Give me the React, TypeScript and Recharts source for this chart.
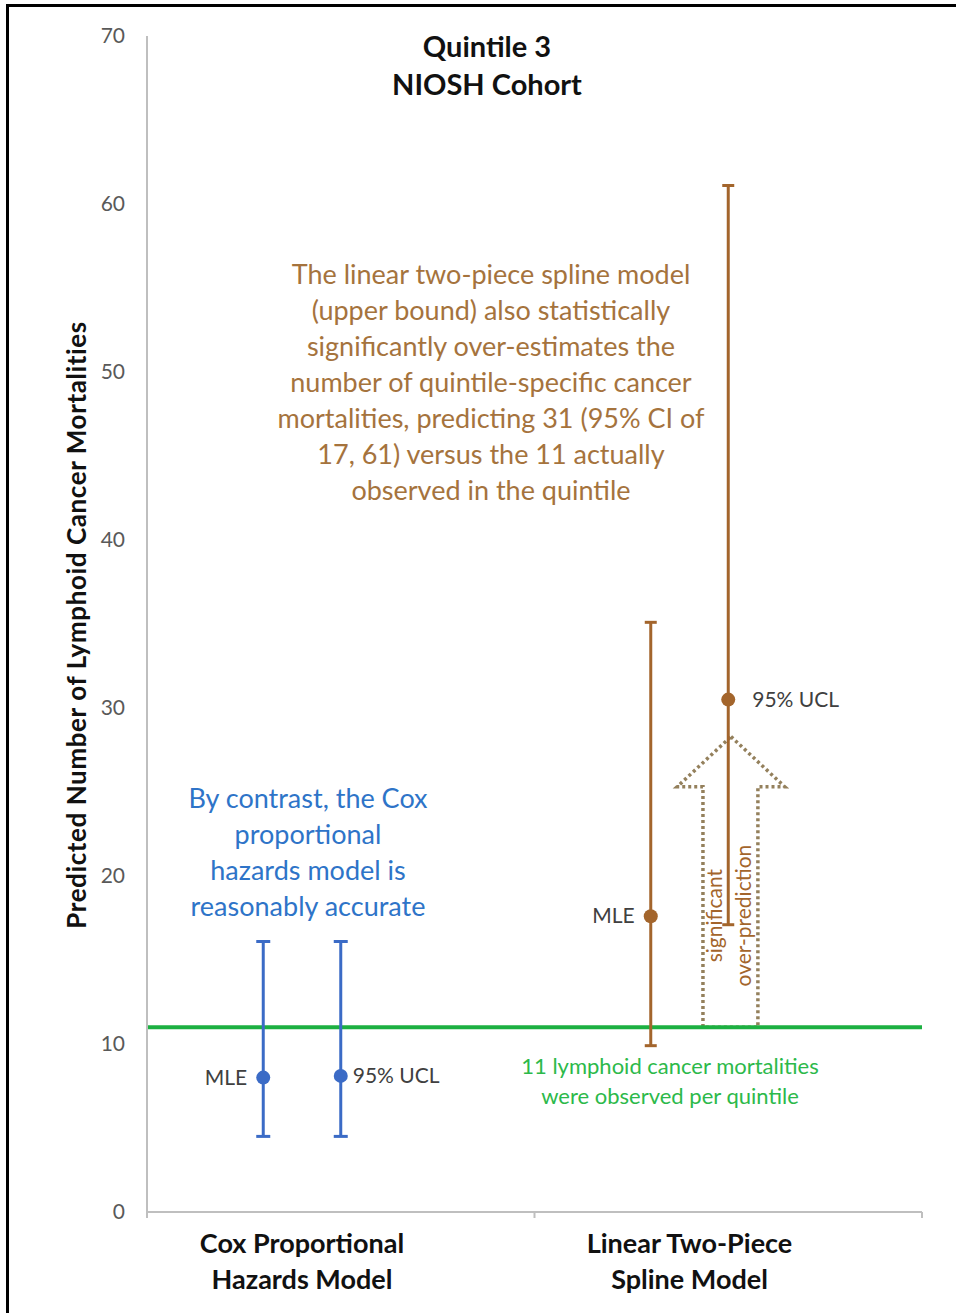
import { ComposedChart, Scatter, ErrorBar, XAxis, YAxis, ReferenceLine, ReferenceArea } from 'recharts';

const modelLabels = [
  ['Cox Proportional', 'Hazards Model'],
  ['Linear Two-Piece', 'Spline Model'],
];
const estimateNames = ['MLE', '95% UCL'];

// predicted mortalities per model, with 95% CI
const mleValues = [8.0, 17.6];
const mleLower = [4.5, 9.9];
const mleUpper = [16.1, 35.1];
const uclValues = [8.1, 30.5];
const uclLower = [4.5, 17.1];
const uclUpper = [16.1, 61.1];

const observedDeaths = 11;
const yTicks = [0, 10, 20, 30, 40, 50, 60, 70];

// the "significant over-prediction" arrow runs from the observed count up to this value
const arrowTop = 28.3;

const BLUE = '#3b6bc6';
const BROWN = '#a3652c';
const GREEN = '#1cb041';
const FONT = 'Lato, "Open Sans", sans-serif';

const point = (model: number, kind: number, value: number, lo: number, hi: number) => ({
  x: model + (kind === 0 ? 0.3 : 0.5),
  y: value,
  err: [value - lo, hi - value],
  name: estimateNames[kind],
});

const coxData = [
  point(0, 0, mleValues[0], mleLower[0], mleUpper[0]),
  point(0, 1, uclValues[0], uclLower[0], uclUpper[0]),
];
const splineData = [
  point(1, 0, mleValues[1], mleLower[1], mleUpper[1]),
  point(1, 1, uclValues[1], uclLower[1], uclUpper[1]),
];

function dotShape(color: string, rightGap: number) {
  return (props: any) => {
    const { cx, cy, payload } = props;
    const isMle = payload.name === 'MLE';
    return (
      <g>
        <circle cx={cx} cy={cy} r={7} fill={color} />
        <text
          x={isMle ? cx - 16 : cx + rightGap}
          y={cy + 7}
          textAnchor={isMle ? 'end' : 'start'}
          fontSize={21}
          fontFamily={FONT}
          fill="#404040"
        >
          {payload.name}
        </text>
      </g>
    );
  };
}

function XTick(props: any) {
  const { x, y, payload } = props;
  const v = payload.value;
  if (Number.isInteger(v)) {
    return <line x1={x} y1={y} x2={x} y2={y + 6} stroke="#bfbfbf" strokeWidth={2} />;
  }
  const lines = modelLabels[Math.floor(v)];
  return (
    <g>
      {lines.map((l, i) => (
        <text key={i} x={x} y={y + 41 + i * 36} textAnchor="middle" fontSize={27} fontWeight="bold" fontFamily={FONT} fill="#111">
          {l}
        </text>
      ))}
    </g>
  );
}

function ArrowShape(props: any) {
  const { x, y, width: w, height: h } = props;
  const hb = y + h * 0.173;
  const pts = [
    [x + w * 0.5, y],
    [x + w, hb],
    [x + w * 0.75, hb],
    [x + w * 0.75, y + h],
    [x + w * 0.24, y + h],
    [x + w * 0.24, hb],
    [x, hb],
  ]
    .map((p) => p.join(','))
    .join(' ');
  const cy = y + h * 0.616;
  return (
    <g>
      <polygon points={pts} fill="none" stroke="#94805c" strokeWidth={3.5} strokeDasharray="3 3" />
      <text x={x + w * 0.36} y={cy} transform={`rotate(-90 ${x + w * 0.36} ${cy})`} textAnchor="middle" fontSize={21} fontFamily={FONT} fill={BROWN} dy={6}>
        significant
      </text>
      <text x={x + w * 0.63} y={cy} transform={`rotate(-90 ${x + w * 0.63} ${cy})`} textAnchor="middle" fontSize={21} fontFamily={FONT} fill={BROWN} dy={6}>
        over-prediction
      </text>
    </g>
  );
}

const overlay = (left: number, top: number, width: number, extra: any) => ({
  position: 'absolute' as const,
  left,
  top,
  width,
  textAlign: 'center' as const,
  fontFamily: FONT,
  whiteSpace: 'nowrap' as const,
  ...extra,
});

export default function App() {
  return (
    <div style={{ position: 'absolute', left: 0, top: 0, width: 956, height: 1313, background: '#fff', overflow: 'hidden' }}>
      <div style={{ position: 'absolute', left: 6, top: 4, width: 960, height: 1320, borderLeft: '3px solid #000', borderTop: '3px solid #000' }} />
      <ComposedChart width={956} height={1313} margin={{ top: 36, right: 34, bottom: 0, left: 87 }}>
        <XAxis
          type="number"
          dataKey="x"
          domain={[0, 2]}
          ticks={[0, 0.4, 1, 1.4, 2]}
          tick={<XTick />}
          tickLine={false}
          tickSize={0}
          tickMargin={0}
          axisLine={{ stroke: '#bfbfbf', strokeWidth: 2 }}
          height={101}
          interval={0}
        />
        <YAxis
          type="number"
          dataKey="y"
          domain={[0, 70]}
          ticks={yTicks}
          width={60}
          tickLine={false}
          tickSize={0}
          tickMargin={22}
          axisLine={{ stroke: '#bfbfbf', strokeWidth: 2 }}
          tick={{ fontSize: 21, fontFamily: FONT, fill: '#595959' }}
        />
        <ReferenceArea x1={1.368} x2={1.646} y1={observedDeaths} y2={arrowTop} shape={<ArrowShape />} />
        <ReferenceLine y={observedDeaths} stroke={GREEN} strokeWidth={4} />
        <Scatter data={coxData} fill={BLUE} shape={dotShape(BLUE, 12)} isAnimationActive={false}>
          <ErrorBar dataKey="err" direction="y" width={7} stroke={BLUE} strokeWidth={3} />
        </Scatter>
        <Scatter data={splineData} fill={BROWN} shape={dotShape(BROWN, 24)} isAnimationActive={false}>
          <ErrorBar dataKey="err" direction="y" width={6} stroke={BROWN} strokeWidth={3} />
        </Scatter>
      </ComposedChart>

      <div style={overlay(287, 27, 400, { fontSize: 29, fontWeight: 'bold', lineHeight: '38px', color: '#111' })}>
        Quintile 3
        <br />
        NIOSH Cohort
      </div>
      <div
        style={{
          position: 'absolute',
          left: 76 - 350,
          top: 625 - 16,
          width: 700,
          height: 32,
          lineHeight: '32px',
          textAlign: 'center',
          transform: 'rotate(-90deg)',
          fontFamily: FONT,
          fontSize: 26,
          letterSpacing: 0.6,
          fontWeight: 'bold',
          color: '#111',
          whiteSpace: 'nowrap',
        }}
      >
        Predicted Number of Lymphoid Cancer Mortalities
      </div>
      <div style={overlay(241, 256, 500, { fontSize: 27, lineHeight: '36px', color: '#a5733d' })}>
        The linear two-piece spline model
        <br />
        (upper bound) also statistically
        <br />
        significantly over-estimates the
        <br />
        number of quintile-specific cancer
        <br />
        mortalities, predicting 31 (95% CI of
        <br />
        17, 61) versus the 11 actually
        <br />
        observed in the quintile
      </div>
      <div style={overlay(158, 780, 300, { fontSize: 27, lineHeight: '36px', color: '#2e74c8' })}>
        By contrast, the Cox
        <br />
        proportional
        <br />
        hazards model is
        <br />
        reasonably accurate
      </div>
      <div style={overlay(470, 1051, 400, { fontSize: 22, lineHeight: '30px', color: '#2cb94a' })}>
        11 lymphoid cancer mortalities
        <br />
        were observed per quintile
      </div>
    </div>
  );
}
